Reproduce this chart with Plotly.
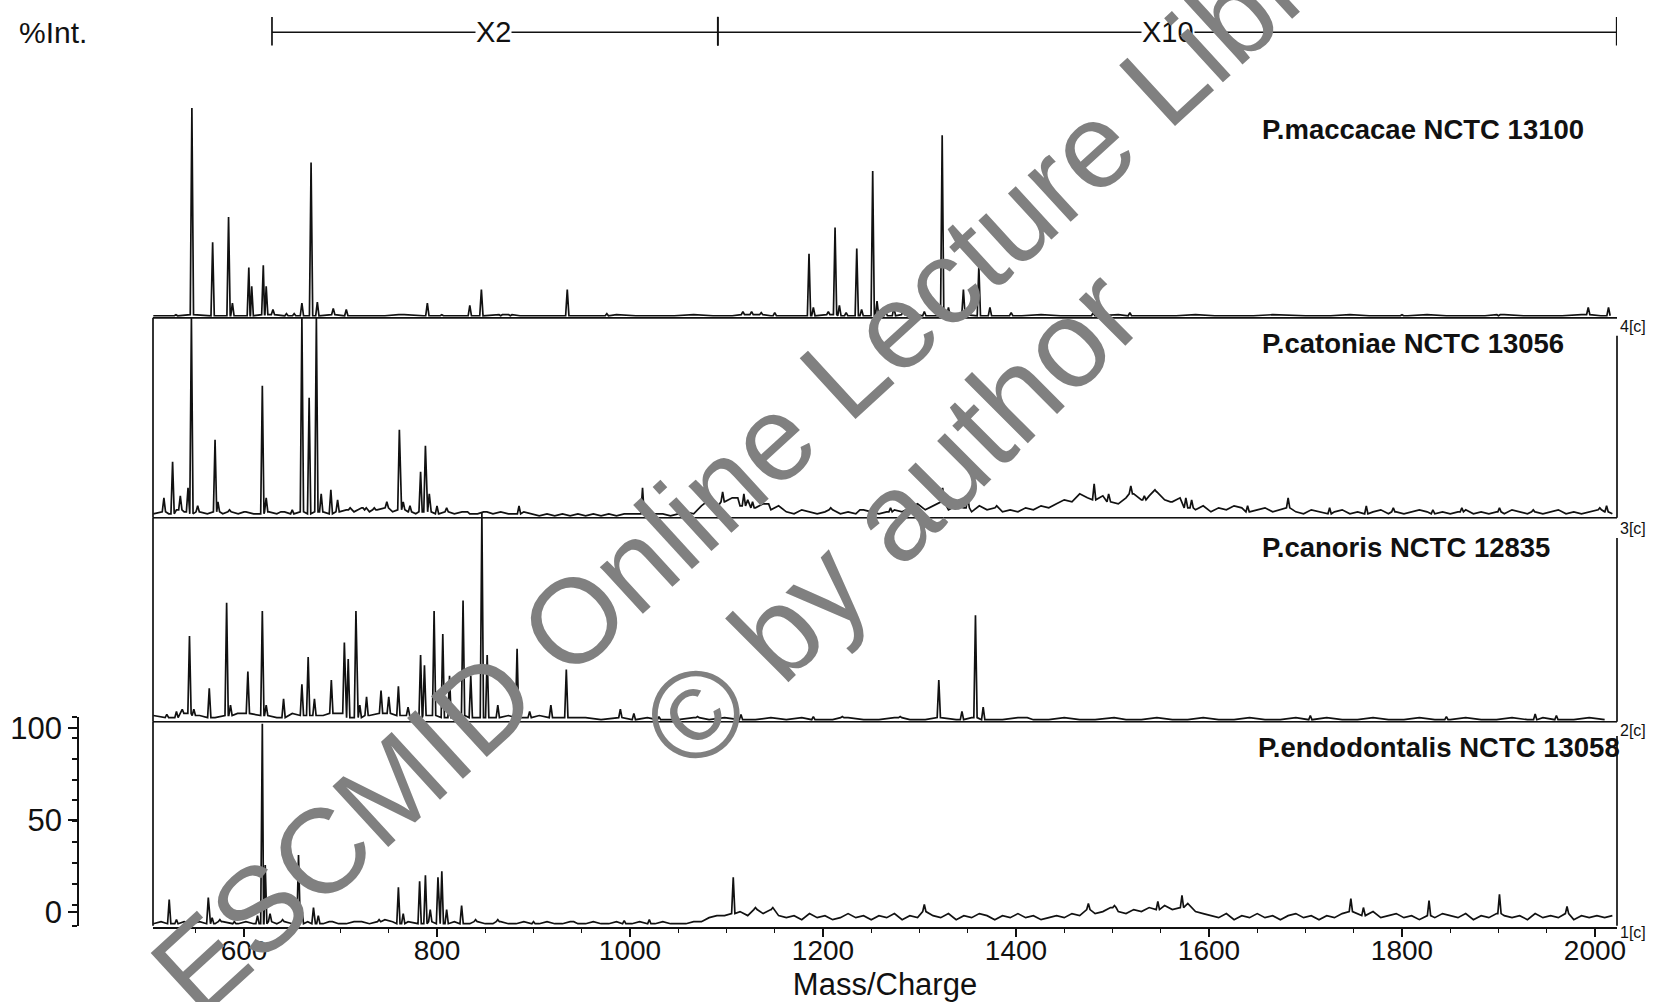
import numpy as np
import plotly.graph_objects as go

W, H = 1661, 1002

# ---------------- data ----------------
species = ["P.maccacae NCTC 13100", "P.catoniae NCTC 13056",
           "P.canoris NCTC 12835", "P.endodontalis NCTC 13058"]
run_tags = ["4[c]", "3[c]", "2[c]", "1[c]"]
x_ticks = [600, 800, 1000, 1200, 1400, 1600, 1800, 2000]
int_ticks = [0, 50, 100]
gain_ranges = [("X2", 629, 1091, 859), ("X10", 1091, 2022.5, 1558)]

# baseline noise (start m/z, step m/z, values in %Int.)
maccacae_noise_start, maccacae_noise_step = 506, 20
maccacae_noise = [1, 1, 1.5, 1, 1, 1, 1.5, 1, 1, 1.5, 1, 1, 1, 1.5, 1, 1, 1, 1, 1.5, 1,
                  1, 1, 1, 1, 1.5, 1, 1, 1, 1.5, 1, 1, 1.5, 1, 1, 1, 1.5, 1, 1, 1, 1.5,
                  1, 1, 1.5, 1, 1, 1, 1.5, 1, 1, 1, 1.5, 1, 1, 1, 1.5, 1, 1, 1, 1.5, 1,
                  1, 1, 1.5, 1, 1, 1, 1.5, 1, 1, 1, 1.5, 1, 1, 1, 1.5, 1]
maccacae_peaks = [(529.5, 1.5), (546, 100), (567.5, 36), (584, 48), (588, 7), (605, 24),
                  (608, 15), (620, 25), (623, 15), (630, 4), (644, 2), (652, 2), (660, 7),
                  (669.5, 74), (676, 7.5), (692.5, 4.5), (706, 4), (762, 1.5), (790, 7),
                  (805, 1.5), (834, 6), (846, 13.5), (866, 1), (876, 1), (935, 13.5),
                  (976, 2), (1117, 3), (1126, 3), (1136, 2.5), (1150, 2.5), (1185.5, 30.5),
                  (1190, 5), (1205.5, 3), (1212.5, 43), (1217, 6), (1224, 2.5), (1235, 33),
                  (1240, 4), (1251.5, 70), (1256, 8), (1265, 3), (1273.5, 5), (1283, 3),
                  (1295, 3), (1305, 3), (1323.5, 87), (1330, 5), (1345.5, 13.5),
                  (1361.5, 24.5), (1373, 5), (1395, 2.5), (1480, 2.5), (1518, 2.5),
                  (1600, 1), (1700, 1), (1800, 1.5), (1900, 1), (1993, 5), (2014, 5)]

catoniae_noise_start, catoniae_noise_step = 506, 8
catoniae_noise = [2, 3, 2, 4, 3, 2, 3, 2, 3, 2, 3, 2, 3, 2, 2, 3, 2, 3, 2, 3, 2, 3, 3, 2, 3,
                  4, 3, 5, 3, 4, 5, 3, 4,
                  3, 2, 3, 3, 2, 3, 2, 3, 2, 2, 3, 2, 3, 2, 2, 3,
                  2, 1, 2, 1, 2, 1, 2, 1, 2, 1, 2, 1, 2,
                  2, 2, 1, 2, 2, 1, 2, 3, 2,
                  6, 9, 5, 8, 10, 6, 9, 5, 7, 4, 6,
                  3, 2, 4, 3, 2, 3, 4, 2, 3, 2, 4, 3, 2, 3, 4, 3,
                  5, 7, 4, 6, 8, 4, 6, 5, 3, 6, 4, 5, 3,
                  4, 3, 5, 4, 6, 5,
                  7, 9, 8, 12, 10, 9, 11, 8, 7, 10, 12, 9, 11, 13, 9, 8, 10,
                  5, 4, 6, 3, 5, 4, 6, 5, 3, 4, 5, 3, 4, 5,
                  3, 2, 4, 3, 2, 3, 4, 2, 3, 2, 3, 4, 2, 3, 2, 3, 4, 3, 2, 3,
                  2, 3, 4, 2, 3, 2, 3, 2, 4, 3, 2, 3, 2, 3, 4, 2, 3, 2, 3, 4, 3, 2]
catoniae_peaks = [(517, 10), (526, 28), (534, 11), (542, 15), (545.5, 100), (552, 6),
                  (570, 39), (573, 8), (585, 4), (600, 3), (619, 66), (623, 10), (640, 3),
                  (650, 4), (660, 100), (667.5, 60), (675, 100), (680, 12), (690, 14),
                  (697, 9), (710, 5), (725, 4), (735, 5), (748, 8), (761, 44), (765, 8),
                  (772, 6), (783, 23), (788, 36), (792, 12), (800, 6), (810, 5), (830, 3),
                  (850, 3), (885, 6), (1013, 15), (1096, 13), (1110, 10), (1118, 12),
                  (1127, 8), (1142, 7), (1208, 5), (1240, 4), (1270, 5), (1324, 15),
                  (1350, 10), (1380, 6), (1481, 17), (1496, 12), (1519, 16), (1533, 11),
                  (1544, 14), (1560, 8), (1576, 10), (1582, 9), (1640, 6), (1682, 10),
                  (1725, 5), (1763, 6), (1791, 5), (1832, 4), (1862, 5), (1901, 5),
                  (1936, 4), (2005, 5), (2012, 6)]

canoris_noise_start, canoris_noise_step = 506, 16
canoris_noise = [3, 2, 4, 3, 2, 3, 4, 3, 2, 4, 3, 3, 4, 2, 3, 4, 3, 2, 3, 2, 3, 2, 2, 3, 2, 3, 2, 2,
                 2, 1, 2, 1, 2, 1, 1, 2, 1, 2, 1, 1, 2, 1, 2, 1, 1, 2, 1, 1,
                 2, 1, 1, 2, 1, 2, 1, 1, 2, 1, 1, 2, 1, 1, 2, 1, 1, 2, 1, 1,
                 2, 1, 1, 2, 1, 1, 2, 1, 2, 1, 1, 2, 1, 1, 2, 1, 1, 2, 1, 1,
                 2, 1, 2, 1, 1, 2, 1]
canoris_peaks = [(520, 3.5), (530, 5), (536, 6), (543.5, 41), (548, 6), (564, 16), (582, 57),
                 (586, 8), (595, 4), (604, 24), (619, 53), (623, 8), (641, 11), (660, 18),
                 (666.5, 31), (673, 11), (690.5, 20), (704, 38), (708, 30), (716, 53),
                 (720, 8), (727, 12), (742, 15), (750, 12), (760, 17), (770, 7), (783, 32),
                 (787, 27), (797, 53), (806, 42), (813, 22), (827, 58), (835, 22),
                 (846.5, 100), (852, 32), (863, 8), (883, 35), (896, 5), (918, 8), (934, 25),
                 (990, 6), (1004, 4), (1030, 2.5), (1070, 2.5), (1115, 3.5), (1190, 2.5),
                 (1220, 2.5), (1280, 2.5), (1320, 20), (1344, 5), (1358, 51), (1366, 7),
                 (1410, 2), (1500, 2), (1705, 3), (1846, 2.5), (1938, 3.7), (1960, 3)]

endodontalis_noise_start, endodontalis_noise_step = 506, 8
endodontalis_noise = [1, 2, 1, 1, 2, 1, 2, 1, 1, 2, 1, 1, 2, 1, 1, 2, 1, 2, 1, 1,
                      2, 1, 1, 2, 1, 1, 2, 2, 1, 2, 3, 2, 1, 2, 1, 1, 2, 1, 1, 2,
                      1, 1, 2, 1, 1, 2, 1, 1, 2, 1, 1, 2, 1, 1, 2, 1, 1, 2, 1, 1,
                      2, 1, 1, 2, 1, 1, 2, 1, 1, 1, 2, 2,
                      4, 5, 5, 6, 7, 5, 8, 6, 8, 5,
                      4, 5, 3, 6, 4, 5, 3, 4, 6, 4, 5, 3, 5, 4, 6, 3, 5, 4,
                      7, 5, 4, 6, 3, 5, 4, 6, 5, 3, 5, 4, 6, 4, 5, 3, 4, 5, 4, 6, 5,
                      8, 6, 7, 9, 7, 6, 8, 7, 9, 8, 10, 8, 9, 11, 7, 6,
                      5, 4, 6, 3, 5, 4, 6, 4, 5, 3, 5, 6, 4, 5, 3, 5, 4, 6,
                      7, 6, 5, 7, 4, 5, 6, 4, 5, 3, 5, 4, 6, 5, 4, 6, 3, 5, 4, 6,
                      5, 4, 5, 3, 6, 4, 5, 4, 6, 3, 5, 4, 5, 4, 5]
endodontalis_peaks = [(522.5, 13), (530, 3), (563, 14), (567, 4), (575, 3), (590, 2),
                      (614, 5), (619, 100), (622, 30), (627, 6), (640, 3), (656.5, 35),
                      (660, 8), (672, 9), (677, 5), (690, 2), (720, 2), (740, 3), (760, 19),
                      (765, 6), (782, 22), (788, 25), (793, 8), (801, 24), (805, 27),
                      (810, 8), (825.5, 10), (840, 3), (863, 3), (900, 2), (940, 2),
                      (994, 2.5), (1020, 3), (1107, 24), (1130, 9), (1148, 9), (1305, 10.5),
                      (1475, 11), (1502, 10), (1547, 12), (1572, 15), (1747, 13.4),
                      (1760, 9), (1828, 12.5), (1901, 15.5), (1971, 9.5)]

# ---------------- helpers ----------------
def spectrum(start, step, noise, peaks, w=1.7):
    gx = start + step * np.arange(len(noise), dtype=float)
    gy = np.array(noise, dtype=float)
    keep = np.ones(len(gx), dtype=bool)
    px, py = [], []
    for m, h in peaks:
        keep &= np.abs(gx - m) >= w
        b = gy[np.argmin(np.abs(gx - m))]
        px += [m - w, m, m + w]
        py += [b, h, b]
    x = np.concatenate([gx[keep], px])
    y = np.concatenate([gy[keep], py])
    o = np.argsort(x, kind="stable")
    return x[o], y[o]


def py2paper(p):
    return 1 - p / H


FONT = "Liberation Sans, Arial, Helvetica, sans-serif"
INK = "#111111"
XL, XR = 153 / W, 1617 / W
YR = [-0.5, 104]

# panel geometry in page pixels: (baseline, 100% level)
panels = [(315, 103), (517, 315), (723, 512), (929, 725)]
axis_names = ["y4", "y3", "y2", "y"]
layout_names = ["yaxis4", "yaxis3", "yaxis2", "yaxis"]
series = [
    (maccacae_noise_start, maccacae_noise_step, maccacae_noise, maccacae_peaks),
    (catoniae_noise_start, catoniae_noise_step, catoniae_noise, catoniae_peaks),
    (canoris_noise_start, canoris_noise_step, canoris_noise, canoris_peaks),
    (endodontalis_noise_start, endodontalis_noise_step, endodontalis_noise, endodontalis_peaks),
]
right_line_top = [None, 91, 88, 94]

fig = go.Figure()
layout = {}
shapes = []
annotations = []

for i, ((b, t), yname, lname, s) in enumerate(zip(panels, axis_names, layout_names, series)):
    k = (b - t) / 100.0
    dom = [py2paper(b - YR[0] * k), py2paper(b - YR[1] * k)]
    layout[lname] = dict(domain=dom, range=YR, anchor="x", visible=False, fixedrange=True)
    x, y = spectrum(*s)
    fig.add_trace(go.Scatter(x=x, y=y, mode="lines", xaxis="x", yaxis=yname,
                             line=dict(color=INK, width=1.7), hoverinfo="skip",
                             name=species[i]))
    if i < 3:
        shapes.append(dict(type="line", xref="paper", yref=yname, x0=XL, x1=XR, y0=0, y1=0,
                           line=dict(color=INK, width=1.7)))
    if i > 0:
        prev_b = panels[i - 1][0]
        shapes.append(dict(type="line", xref="paper", yref=yname, x0=XL, x1=XL, y0=0,
                           y1=(b - prev_b) / k, line=dict(color=INK, width=1.7)))
        shapes.append(dict(type="line", xref="paper", yref=yname, x0=XR, x1=XR, y0=0,
                           y1=right_line_top[i], line=dict(color=INK, width=1.7)))

# species labels and run tags
label_y = [125, 341, 547, 749]
for i in range(4):
    annotations.append(dict(text="<b>%s</b>" % species[i], xref="paper", yref="paper",
                            x=1260 / W if i < 3 else 1256 / W, y=py2paper(label_y[i]),
                            xanchor="left", yanchor="middle", showarrow=False,
                            font=dict(family=FONT, size=27.5, color=INK)))
tag_y = [324, 528, 732, 936]
for i in range(4):
    annotations.append(dict(text=run_tags[i], xref="paper", yref="paper",
                            x=1618 / W, y=py2paper(tag_y[i]), xanchor="left",
                            yanchor="middle", showarrow=False,
                            font=dict(family=FONT, size=16, color=INK)))

# gain bracket at top
yb, yt0, yt1 = py2paper(26.5), py2paper(11), py2paper(40)
for lab, m0, m1, mc in gain_ranges:
    shapes.append(dict(type="line", xref="x", yref="paper", x0=m0, x1=m1, y0=yb, y1=yb,
                       line=dict(color=INK, width=1.7)))
    for m in (m0, m1):
        shapes.append(dict(type="line", xref="x", yref="paper", x0=m, x1=m, y0=yt0, y1=yt1,
                           line=dict(color=INK, width=1.7)))
    annotations.append(dict(text=lab, xref="x", yref="paper", x=mc, y=yb, showarrow=False,
                            xanchor="center", yanchor="middle", bgcolor="white", borderpad=0,
                            font=dict(family=FONT, size=29, color=INK)))
annotations.append(dict(text="%Int.", xref="paper", yref="paper", x=17 / W, y=yb,
                        xanchor="left", yanchor="middle", showarrow=False,
                        font=dict(family=FONT, size=30, color=INK)))

# watermark
annotations.append(dict(text="ESCMID Online Lecture Library", xref="paper", yref="paper",
                        x=790 / W, y=py2paper(420), textangle=-42.5, showarrow=False,
                        xanchor="center", yanchor="middle",
                        font=dict(family=FONT, size=120, color="#808080")))
annotations.append(dict(text="\u00a9 by author", xref="paper", yref="paper",
                        x=891 / W, y=py2paper(518), textangle=-45, showarrow=False,
                        xanchor="center", yanchor="middle",
                        font=dict(family=FONT, size=124, color="#808080")))

# decorative intensity scale axis
fig.add_trace(go.Scatter(x=[None], y=[None], xaxis="x", yaxis="y5", showlegend=False,
                         hoverinfo="skip"))
layout["yaxis5"] = dict(domain=[py2paper(929), py2paper(718)], range=[-7.5, 106],
                        anchor="free", position=78 / W, side="left", showline=True,
                        linecolor=INK, linewidth=1.7, ticks="outside", ticklen=9,
                        tickwidth=1.7, tickcolor=INK, tickvals=int_ticks,
                        ticktext=[str(v) for v in int_ticks], showgrid=False, zeroline=False,
                        tickfont=dict(family=FONT, size=31, color=INK),
                        minor=dict(tick0=-7.5, dtick=11.35, ticks="outside", ticklen=5,
                                   tickwidth=1.5, tickcolor=INK, showgrid=False),
                        fixedrange=True)

layout["xaxis"] = dict(domain=[XL, XR], range=[505.7, 2022.8], anchor="y",
                       showline=True, linecolor=INK, linewidth=1.7, ticks="outside",
                       ticklen=8, tickwidth=1.7, tickcolor=INK, tickvals=x_ticks,
                       ticktext=[str(v) for v in x_ticks], showgrid=False, zeroline=False,
                       ticklabelstandoff=-10,
                       tickfont=dict(family=FONT, size=28, color=INK),
                       minor=dict(dtick=50, ticks="outside", ticklen=4, tickwidth=1.3,
                                  tickcolor=INK, showgrid=False),
                       title=dict(text="Mass/Charge", standoff=12,
                                  font=dict(family=FONT, size=31, color=INK)),
                       automargin=False, fixedrange=True)

fig.update_layout(width=W, height=H, margin=dict(l=0, r=0, t=0, b=0),
                  paper_bgcolor="white", plot_bgcolor="rgba(0,0,0,0)",
                  showlegend=False, shapes=shapes, annotations=annotations, **layout)

fig.write_html("out.html", config={"displayModeBar": False},
               post_script="document.body.style.margin='0px';"
                           "document.body.style.overflow='hidden';")
